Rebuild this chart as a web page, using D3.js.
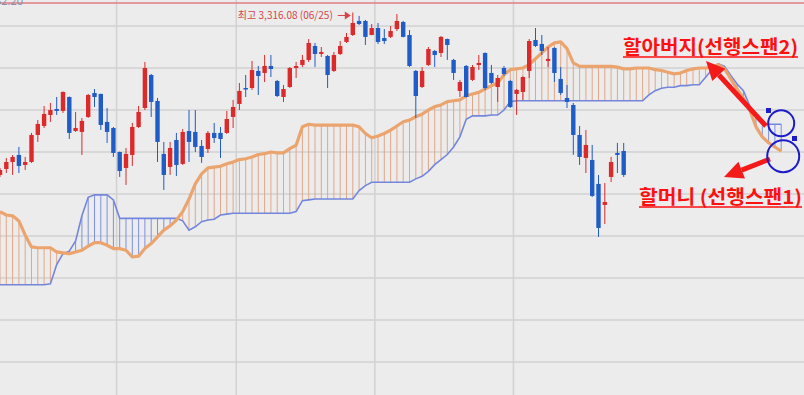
<!DOCTYPE html>
<html>
<head>
<meta charset="utf-8">
<script src="https://cdn.jsdelivr.net/npm/d3@7"></script>
<style>
html, body { margin: 0; padding: 0; background: #ececec; overflow: hidden; }
svg { display: block; }
</style>
</head>
<body>
<script>
var width = 804, height = 395;

// daily candles (index 0 = first visible day)
var opens = [3122.7,3129.8,3138.1,3146.5,3134.6,3138.1,3170.3,3181,3194.1,3201.2,
  3198.9,3215.5,3175,3173.9,3191.7,3220.3,3219.1,3185.8,3178.6,3150,
  3131,3146.5,3179.8,3202.4,3241.7,3210.8,3147.7,3132.2,3164.3,3135.8,
  3175,3173.9,3157.2,3153.6,3172.7,3172.7,3172.7,3191.7,3207.2,3226.2,
  3226.2,3246.5,3244.1,3252.4,3234.6,3215.5,3227.4,3250,3253.6,3259.6,
  3276.2,3266.7,3264.3,3246.5,3266.7,3281,3289.3,3306,3306,3289.3,
  3297.6,3285.7,3287,3296.4,3304.8,3289.3,3246.5,3227.4,3253.6,3270.3,
  3267.9,3284.5,3259.6,3222.7,3252.4,3235.8,3253.6,3267.9,3244.1,3227.4,
  3250,3234.6,3219.1,3221.5,3246.5,3283.3,3278.6,3258.4,3273.9,3237,
  3214.3,3206,3170.3,3142.9,3140.5,3112,3087,3120.3,3148.9,3151.2];
var highs = [3131,3142.9,3146.5,3156,3144.1,3172.7,3188.1,3204.8,3208.4,3215.5,
  3222,3216,3197.7,3190.5,3219.1,3225,3219.5,3202.4,3179.8,3150.5,
  3154.8,3184.6,3204.8,3257.2,3242.9,3214.3,3162,3162,3172.7,3177.4,
  3200,3200,3164.3,3175,3184.6,3179.8,3198.9,3212,3232.2,3241.7,
  3258.4,3252.4,3265.5,3265.5,3235.8,3229.8,3251.2,3257.2,3265.5,3284.5,
  3279.8,3275,3265.5,3269.1,3282.1,3291.7,3316.08,3312,3307.2,3302.4,
  3303.6,3296.4,3300,3314.3,3306,3295.2,3247.6,3251.2,3275,3271.5,
  3288.1,3285,3260.8,3235.8,3253.6,3253.6,3265.5,3268.5,3253.6,3241.7,
  3252.4,3235.8,3225,3240,3284.5,3297.6,3289.3,3275,3274.5,3251.2,
  3229.8,3208.4,3181,3176.2,3158.4,3122.7,3113.1,3144.1,3160.8,3160.8];
var lows = [3120.3,3125,3122.7,3125,3128.6,3137,3162,3178.6,3185.8,3194.1,
  3196.5,3165.5,3173.9,3146.5,3190.5,3203.6,3176.2,3160.8,3144.1,3120.3,
  3110.8,3133.4,3178.6,3200,3191.7,3138.1,3104.8,3122.7,3121.5,3134.6,
  3138.1,3150,3137,3148.9,3160.8,3142.9,3171.5,3178.6,3200,3215.5,
  3223.9,3217.9,3233.3,3239.3,3215.5,3209.6,3226.2,3238.1,3251.2,3257.2,
  3251.2,3263.1,3226.2,3245.3,3265.5,3279.8,3288.1,3301.2,3277.4,3289,
  3278.6,3278.6,3285.7,3294,3286.5,3251.2,3190.5,3226.2,3252.4,3251.2,
  3263.1,3259.6,3235.8,3215.5,3215,3234.6,3247.6,3223.9,3231,3209.6,
  3240.5,3202.4,3194.1,3212,3238.1,3275,3265.5,3251.2,3233.3,3217.9,
  3202.4,3146.5,3134.6,3125,3096.5,3048.9,3064.3,3114.3,3125,3120.3];
var closes = [3128.6,3138.1,3144.1,3133.4,3138.1,3170.3,3183.4,3195.3,3200,3198.9,
  3221.5,3172.7,3178.6,3187,3217.9,3215.5,3182.2,3173.9,3148.9,3127.4,
  3147.7,3179.8,3197.7,3250,3209.6,3162,3122.7,3154.8,3134.6,3173.9,
  3162,3156,3144.1,3172.7,3166.7,3165.5,3189.3,3203.6,3222.7,3225,
  3247.6,3240.5,3252.4,3248.8,3216.7,3225,3250,3252.4,3259.6,3279.8,
  3266.7,3269.1,3241.7,3265.5,3276.2,3287,3303.6,3302.4,3287,3297.6,
  3281,3282.1,3294,3306,3287,3252.4,3216.7,3246.5,3272.6,3265.5,
  3287,3277.4,3244.1,3233.3,3215.5,3251.2,3256,3226.2,3232.2,3238.1,
  3242.9,3203.6,3223.9,3239.3,3282.1,3276.2,3270.3,3260.8,3244.1,3220.3,
  3209.6,3170.3,3144.1,3158.4,3097.7,3059.6,3090.5,3138.1,3146.5,3122.7];

// leading spans (run 25 days past the last candle)
var span1 = [3079,3075,3074,3068,3051,3037,3036,3036,3036,3031,
  3030,3029,3031,3033,3038,3042,3042,3039,3035,3035,
  3033,3025,3026,3035,3041,3049,3057,3062,3069,3079,
  3094,3112,3124,3131,3132,3133,3136,3138,3141,3142,
  3144,3147,3148,3150,3149,3149,3154,3158,3180,3183,
  3182,3182,3182,3182,3182,3182,3182,3180,3172,3167,
  3169,3172,3176,3181,3186,3188,3192,3195,3200,3204,
  3206,3210,3211,3212,3217,3219,3221,3225,3229,3232,
  3242,3248,3249,3250,3254,3261,3268,3275,3280,3281,
  3273,3256,3252,3252,3252,3252,3252,3252,3251,3249,
  3249,3250,3250,3250,3248,3247,3245,3243,3244,3247,
  3249,3250,3250,3251,3254,3249,3237,3225,3214,3200,
  3180,3168,3161,3156,3151];
var span2 = [2992,2992,2992,2992,2992,2992,2992,2992,2993,3016,
  3029,3032,3044,3074,3096,3099,3099,3099,3093,3071,
  3071,3071,3071,3071,3071,3071,3071,3071,3071,3068,
  3057,3061,3067,3069,3070,3075,3076,3077,3077,3077,
  3077,3077,3077,3077,3077,3077,3077,3079,3092,3093,
  3094,3094,3094,3094,3094,3094,3094,3104,3110,3114,
  3114,3114,3114,3114,3114,3114,3118,3121,3127,3135,
  3141,3147,3156,3168,3189,3193,3193,3193,3194,3194,
  3200,3210,3211,3211,3211,3211,3211,3211,3211,3211,
  3211,3211,3211,3211,3211,3211,3211,3211,3211,3211,
  3211,3211,3211,3218,3223,3226,3227,3227,3229,3229,
  3230,3230,3239,3248,3255,3252,3241,3231,3223,3205,
  3191,3183,3183,3183,3183];

var monthStarts = [19, 38, 60, 82];
var priceTicks = d3.range(2900, 3301, 50);
var refLevel = 3327.4;
var refLabel = "3,332.20";
var maxIndex = 56;
var maxLabel = "최고 3,316.08 (06/25)";
var span2Label = "할아버지(선행스팬2)";
var span1Label = "할머니 (선행스팬1)";

var x = d3.scaleLinear().domain([0, 125]).range([0, 787.5]);
var y = d3.scaleLinear().domain([2900, 3300]).range([362, 26]);

var svg = d3.select("body").append("svg")
  .attr("width", width)
  .attr("height", height);

svg.append("rect").attr("width", width).attr("height", height).attr("fill", "#ececec");

// grid
svg.selectAll(".hgrid").data(priceTicks).enter().append("line")
  .attr("x1", 0).attr("x2", width)
  .attr("y1", function(d) { return y(d); })
  .attr("y2", function(d) { return y(d); })
  .attr("stroke", "#d2d2d2").attr("stroke-width", 1.5);

svg.selectAll(".vgrid").data(monthStarts).enter().append("line")
  .attr("x1", function(d) { return x(d - 0.5); })
  .attr("x2", function(d) { return x(d - 0.5); })
  .attr("y1", 0).attr("y2", height)
  .attr("stroke", "#d2d2d2").attr("stroke-width", 1.5);

// reference line at top
svg.append("line")
  .attr("x1", 0).attr("x2", width)
  .attr("y1", y(refLevel)).attr("y2", y(refLevel))
  .attr("stroke", "#e07c80").attr("stroke-width", 1.6);
svg.append("text")
  .attr("x", 23).attr("y", 5)
  .attr("text-anchor", "end")
  .attr("font-family", "Noto Sans, sans-serif").attr("font-size", 11)
  .attr("fill", "#8d8db0")
  .text(refLabel);

// cloud hatching
var idx = d3.range(span1.length);
svg.selectAll(".hatch").data(idx).enter().append("line")
  .attr("x1", function(i) { return x(i); })
  .attr("x2", function(i) { return x(i); })
  .attr("y1", function(i) { return y(span1[i]); })
  .attr("y2", function(i) { return y(span2[i]); })
  .attr("stroke", function(i) { return span1[i] >= span2[i] ? "#e2a688" : "#7d8fe0"; })
  .attr("stroke-width", 1);

var line = d3.line().x(function(d, i) { return x(i); }).y(function(d) { return y(d); });

svg.append("path").datum(span2).attr("d", line)
  .attr("fill", "none").attr("stroke", "#7286dc").attr("stroke-width", 1.6);
svg.append("path").datum(span1).attr("d", line)
  .attr("fill", "none").attr("stroke", "#eba46e").attr("stroke-width", 3.2)
  .attr("stroke-linejoin", "round");

// candles
var candles = d3.range(opens.length).map(function(i) {
  return { i: i, o: opens[i], h: highs[i], l: lows[i], c: closes[i] };
});
var colour = function(d) { return d.c >= d.o ? "#dc2a2a" : "#1f5cc6"; };

var g = svg.selectAll(".candle").data(candles).enter().append("g");
g.append("line")
  .attr("x1", function(d) { return x(d.i); })
  .attr("x2", function(d) { return x(d.i); })
  .attr("y1", function(d) { return y(d.h); })
  .attr("y2", function(d) { return y(d.l); })
  .attr("stroke", colour).attr("stroke-width", 1);
g.append("rect")
  .attr("x", function(d) { return x(d.i) - 2.2; })
  .attr("width", 4.4)
  .attr("y", function(d) { return y(Math.max(d.o, d.c)); })
  .attr("height", function(d) { return Math.max(1.5, Math.abs(y(d.o) - y(d.c))); })
  .attr("fill", colour);

// highest price label
var mx = x(maxIndex), my = y(highs[maxIndex]) + 3;
svg.append("text")
  .attr("x", mx - 20).attr("y", my + 4)
  .attr("text-anchor", "end")
  .attr("font-family", "Noto Sans CJK KR, sans-serif").attr("font-size", 10.5)
  .attr("fill", "#d6444a")
  .attr("textLength", 95).attr("lengthAdjust", "spacingAndGlyphs")
  .text(maxLabel);
svg.append("line")
  .attr("x1", mx - 15).attr("x2", mx - 7)
  .attr("y1", my).attr("y2", my)
  .attr("stroke", "#d6444a").attr("stroke-width", 1);
svg.append("path")
  .attr("d", "M" + (mx - 8) + "," + (my - 4) + "L" + (mx - 2) + "," + my + "L" + (mx - 8) + "," + (my + 4) + "Z")
  .attr("fill", "#d6444a");

// annotations
function arrow(x1, y1, x2, y2) {
  var a = Math.atan2(y2 - y1, x2 - x1), len = 19, hw = 9;
  var bx = x2 - len * Math.cos(a), by = y2 - len * Math.sin(a);
  svg.append("line").attr("x1", x1).attr("y1", y1).attr("x2", bx).attr("y2", by)
    .attr("stroke", "#f41a1a").attr("stroke-width", 5);
  svg.append("path")
    .attr("d", "M" + x2 + "," + y2 +
      "L" + (bx + hw * Math.sin(a)) + "," + (by - hw * Math.cos(a)) +
      "L" + (bx - hw * Math.sin(a)) + "," + (by + hw * Math.cos(a)) + "Z")
    .attr("fill", "#f41a1a");
}
arrow(766, 126, 706, 61);
arrow(770, 159, 724, 177);

function label(txt, lx, ly, w) {
  svg.append("text")
    .attr("x", lx).attr("y", ly)
    .attr("font-family", "Noto Sans CJK KR, sans-serif")
    .attr("font-size", 19).attr("font-weight", 700)
    .attr("fill", "#ff0f0f")
    .attr("textLength", w).attr("lengthAdjust", "spacingAndGlyphs")
    .text(txt);
  svg.append("line").attr("x1", lx).attr("x2", lx + w)
    .attr("y1", ly + 3).attr("y2", ly + 3)
    .attr("stroke", "#ff0f0f").attr("stroke-width", 1.5);
}
label(span2Label, 623, 54, 175);
label(span1Label, 639, 204, 163);

var ex = x(span1.length - 1);
[[ex, y(span2[span2.length - 1]) - 1, 13], [ex + 2, y(span1[span1.length - 1]) + 5, 16]].forEach(function(c) {
  svg.append("circle").attr("cx", c[0]).attr("cy", c[1]).attr("r", c[2])
    .attr("fill", "none").attr("stroke", "#1c1cc8").attr("stroke-width", 2);
});
svg.append("rect").attr("x", 766).attr("y", 108).attr("width", 5).attr("height", 5).attr("fill", "#1c1cc8");
svg.append("rect").attr("x", 792).attr("y", 136).attr("width", 5).attr("height", 5).attr("fill", "#1c1cc8");
</script>
</body>
</html>
